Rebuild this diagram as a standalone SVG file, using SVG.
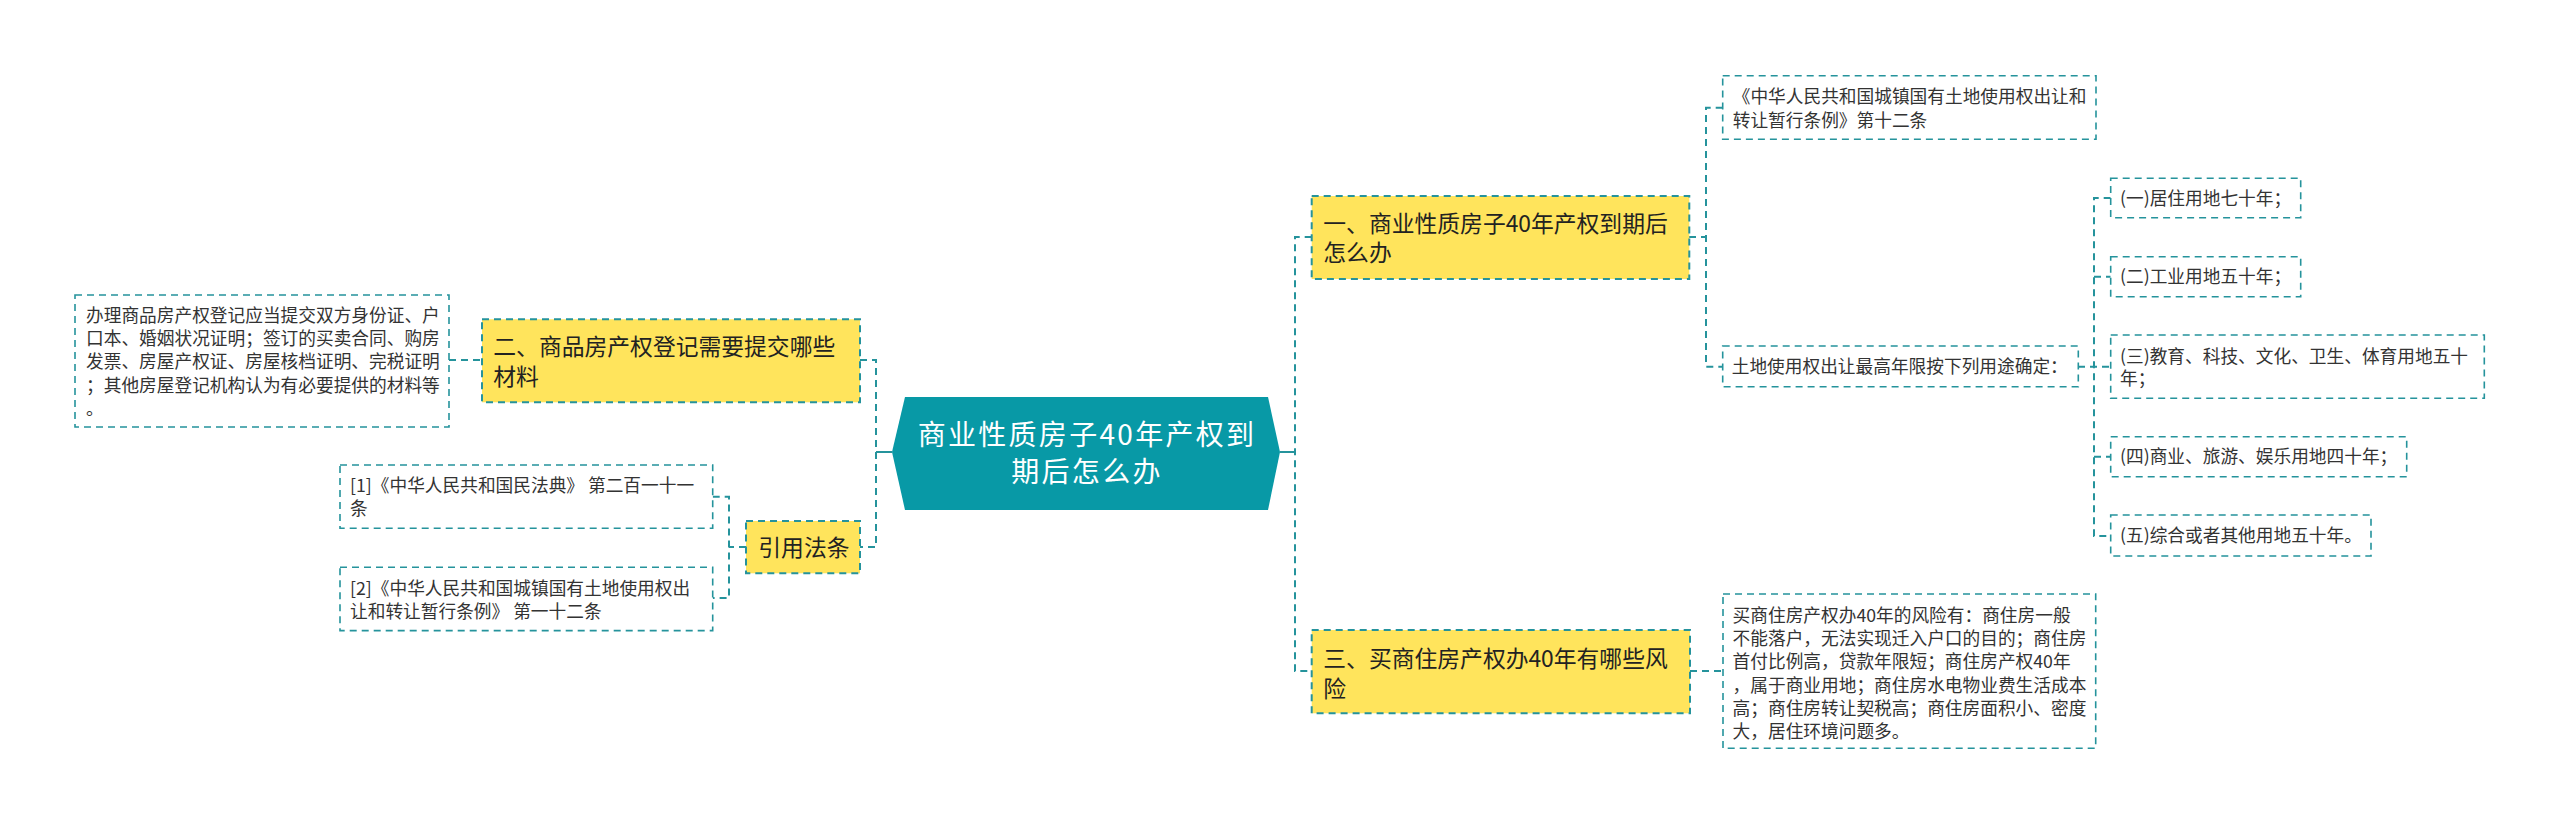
<svg xmlns="http://www.w3.org/2000/svg" width="2560" height="825" viewBox="0 0 2560 825">
<style>
.conn{fill:none;stroke:#25939c;stroke-width:2;stroke-dasharray:7 5}
.solid{fill:none;stroke:#25939c;stroke-width:2}
.leaf{fill:#ffffff;stroke:#25939c;stroke-width:1.6;stroke-dasharray:7 5}
.main{fill:#ffe45c;stroke:#25939c;stroke-width:2;stroke-dasharray:7 5}
.root{fill:#0899a6}
text{font-family:"Noto Sans CJK SC","Microsoft YaHei",sans-serif}
.t1{font-size:17.7px;fill:#333333}
.t2{font-size:22.8px;fill:#222222}
.t0{font-size:28px;letter-spacing:2.3px;fill:#ffffff;text-anchor:middle}
</style>
<rect x="0" y="0" width="2560" height="825" fill="#ffffff"/>
<g id="connectors">
  <path class="solid" d="M892 452 H876"/>
  <path class="conn" d="M860 360 H876 V547 H860"/>
  <path class="conn" d="M449 360 H482"/>
  <path class="conn" d="M746 547 H729"/>
  <path class="conn" d="M712.7 496.7 H729 V598 H712.7"/>
  <path class="solid" d="M1280 452 H1295"/>
  <path class="conn" d="M1311.7 237 H1295 V671 H1311.7"/>
  <path class="conn" d="M1689 237 H1706"/>
  <path class="conn" d="M1722.7 107.7 H1706 V366.7 H1722.7"/>
  <path class="conn" d="M2078 366.7 H2110.7"/>
  <path class="conn" d="M2110.7 198 H2094 V536 H2110.7"/>
  <path class="conn" d="M2094 276.7 H2110.7"/>
  <path class="conn" d="M2094 456.7 H2110.7"/>
  <path class="conn" d="M1690 671 H1723"/>
</g>
<g id="root">
  <polygon class="root" points="892,452 905,397 1268,397 1280,452 1268,510 905,510"/>
  <text class="t0" x="1087" y="444.5">商业性质房子40年产权到</text>
  <text class="t0" x="1087" y="482">期后怎么办</text>
</g>
<g id="node-2">
  <rect class="main" x="482" y="319.3" width="378" height="83"/>
  <text class="t2" x="493.3" y="355.3">二、商品房产权登记需要提交哪些</text>
  <text class="t2" x="493.3" y="384.8">材料</text>
</g>
<g id="leaf-2-1">
  <rect class="leaf" x="75" y="295" width="374" height="132"/>
  <text class="t1" x="86" y="321.7">办理商品房产权登记应当提交双方身份证、户</text>
  <text class="t1" x="86" y="345">口本、婚姻状况证明；签订的买卖合同、购房</text>
  <text class="t1" x="86" y="368.3">发票、房屋产权证、房屋核档证明、完税证明</text>
  <text class="t1" x="86" y="391.6">；其他房屋登记机构认为有必要提供的材料等</text>
  <text class="t1" x="86" y="415">。</text>
</g>
<g id="node-law">
  <rect class="main" x="746" y="521" width="114" height="52.3"/>
  <text class="t2" x="758.3" y="556">引用法条</text>
</g>
<g id="leaf-law-1">
  <rect class="leaf" x="340" y="465" width="372.7" height="63.3"/>
  <text class="t1" x="350" y="491.7">[1]《中华人民共和国民法典》 第二百一十一</text>
  <text class="t1" x="350" y="515">条</text>
</g>
<g id="leaf-law-2">
  <rect class="leaf" x="340" y="567.3" width="372.7" height="63.3"/>
  <text class="t1" x="350" y="595">[2]《中华人民共和国城镇国有土地使用权出</text>
  <text class="t1" x="350" y="618.3">让和转让暂行条例》 第一十二条</text>
</g>
<g id="node-1">
  <rect class="main" x="1311.7" y="196" width="377.6" height="83"/>
  <text class="t2" x="1323.3" y="231.7">一、商业性质房子40年产权到期后</text>
  <text class="t2" x="1323.3" y="261.2">怎么办</text>
</g>
<g id="leaf-1-1">
  <rect class="leaf" x="1722.7" y="75.7" width="373.3" height="63.6"/>
  <text class="t1" x="1732.7" y="103.4">《中华人民共和国城镇国有土地使用权出让和</text>
  <text class="t1" x="1732.7" y="126.7">转让暂行条例》第十二条</text>
</g>
<g id="leaf-1-2">
  <rect class="leaf" x="1722.7" y="346" width="355.6" height="40.7"/>
  <text class="t1" x="1731.7" y="373.4">土地使用权出让最高年限按下列用途确定：</text>
</g>
<g id="leaf-1-2-1">
  <rect class="leaf" x="2110.7" y="178.3" width="190" height="39.4"/>
  <text class="t1" x="2120" y="204.7">(一)居住用地七十年；</text>
</g>
<g id="leaf-1-2-2">
  <rect class="leaf" x="2110.7" y="256.7" width="190" height="40"/>
  <text class="t1" x="2120" y="283.4">(二)工业用地五十年；</text>
</g>
<g id="leaf-1-2-3">
  <rect class="leaf" x="2110.7" y="335" width="373.6" height="63.3"/>
  <text class="t1" x="2120" y="362.5">(三)教育、科技、文化、卫生、体育用地五十</text>
  <text class="t1" x="2120" y="385">年；</text>
</g>
<g id="leaf-1-2-4">
  <rect class="leaf" x="2110.7" y="436.7" width="296" height="40"/>
  <text class="t1" x="2120" y="463.4">(四)商业、旅游、娱乐用地四十年；</text>
</g>
<g id="leaf-1-2-5">
  <rect class="leaf" x="2110.7" y="515" width="260.3" height="41"/>
  <text class="t1" x="2120" y="542.2">(五)综合或者其他用地五十年。</text>
</g>
<g id="node-3">
  <rect class="main" x="1311.7" y="630" width="378.3" height="83.3"/>
  <text class="t2" x="1323.3" y="667">三、买商住房产权办40年有哪些风</text>
  <text class="t2" x="1323.3" y="696.5">险</text>
</g>
<g id="leaf-3-1">
  <rect class="leaf" x="1723" y="594" width="372.7" height="154.3"/>
  <text class="t1" x="1732.6" y="621.7">买商住房产权办40年的风险有：商住房一般</text>
  <text class="t1" x="1732.6" y="645">不能落户，无法实现迁入户口的目的；商住房</text>
  <text class="t1" x="1732.6" y="668.4">首付比例高，贷款年限短；商住房产权40年</text>
  <text class="t1" x="1732.6" y="691.7">，属于商业用地；商住房水电物业费生活成本</text>
  <text class="t1" x="1732.6" y="715">高；商住房转让契税高；商住房面积小、密度</text>
  <text class="t1" x="1732.6" y="738.4">大，居住环境问题多。</text>
</g>
</svg>
